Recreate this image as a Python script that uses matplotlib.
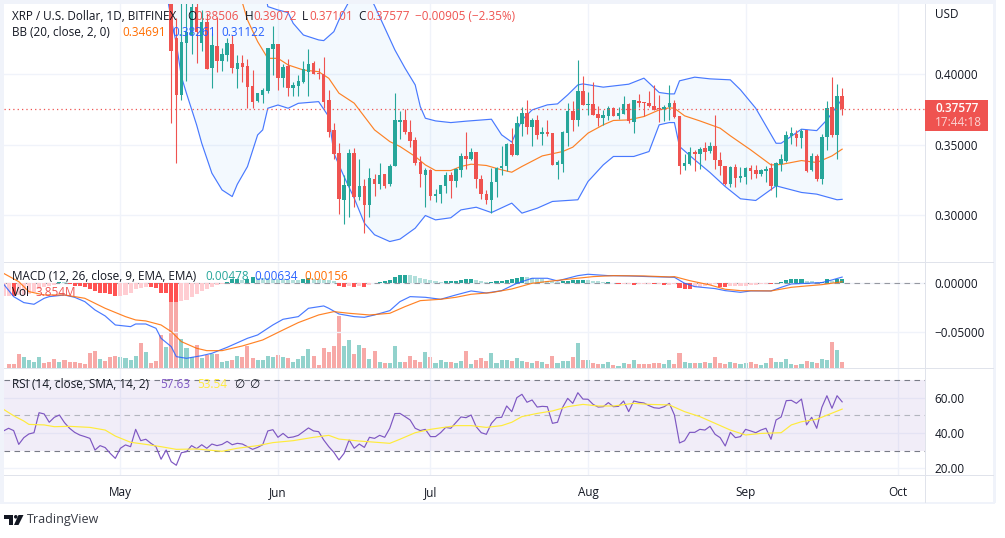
import matplotlib
matplotlib.use('Agg')
import matplotlib.pyplot as plt
import numpy as np
from matplotlib.patches import Rectangle, Circle, Polygon

plt.rcParams['font.family'] = ['Open Sans', 'DejaVu Sans']

# x axis is days counted from May 1st, first candle in view is May 11th
month_days = [0, 31, 61, 92, 123, 153]
month_names = ['May', 'Jun', 'Jul', 'Aug', 'Sep', 'Oct']

opens = [0.4600, 0.4257, 0.3855, 0.4227, 0.4281, 0.4483, 0.4227, 0.4376, 0.4044, 0.4203,
         0.4099, 0.4139, 0.4217, 0.4039, 0.4084, 0.4061, 0.3919, 0.3812, 0.3855, 0.3885,
         0.4179, 0.4217, 0.3978, 0.4063, 0.3902, 0.3919, 0.3949, 0.4020, 0.4080, 0.4013,
         0.4004, 0.3819, 0.3606, 0.3440, 0.3109, 0.3208, 0.3445, 0.3127, 0.3208, 0.3073,
         0.3255, 0.3222, 0.3293, 0.3222, 0.3350, 0.3665, 0.3673, 0.3590, 0.3535, 0.3381,
         0.3286, 0.3322, 0.3137, 0.3151, 0.3208, 0.3286, 0.3244, 0.3322, 0.3421, 0.3400,
         0.3450, 0.3258, 0.3151, 0.3109, 0.3232, 0.3338, 0.3346, 0.3507, 0.3428, 0.3649,
         0.3725, 0.3625, 0.3673, 0.3580, 0.3592, 0.3585, 0.3357, 0.3364, 0.3587, 0.3741,
         0.3677, 0.3883, 0.3784, 0.3791, 0.3720, 0.3692, 0.3708, 0.3760, 0.3708, 0.3722,
         0.3791, 0.3665, 0.3810, 0.3805, 0.3800, 0.3777, 0.3760, 0.3753, 0.3767, 0.3800,
         0.3706, 0.3346, 0.3362, 0.3450, 0.3436, 0.3478, 0.3455, 0.3492, 0.3393, 0.3350,
         0.3222, 0.3343, 0.3265, 0.3272, 0.3336, 0.3322, 0.3293, 0.3317, 0.3336, 0.3208,
         0.3364, 0.3386, 0.3566, 0.3578, 0.3549, 0.3606, 0.3322, 0.3421, 0.3258, 0.3554,
         0.3767, 0.3571, 0.38506]
highs = [0.4800, 0.4400, 0.4600, 0.4550, 0.4600, 0.4510, 0.4459, 0.4435, 0.4293, 0.4412,
         0.4186, 0.4257, 0.4281, 0.4139, 0.4139, 0.4108, 0.4032, 0.3871, 0.3902, 0.4186,
         0.4345, 0.4217, 0.4075, 0.4108, 0.3949, 0.3997, 0.4096, 0.4179, 0.4099, 0.4044,
         0.4127, 0.3890, 0.3658, 0.3511, 0.3286, 0.3471, 0.3476, 0.3398, 0.3255, 0.3334,
         0.3293, 0.3369, 0.3293, 0.3364, 0.3867, 0.3741, 0.3756, 0.3677, 0.3554, 0.3417,
         0.3334, 0.3329, 0.3187, 0.3215, 0.3303, 0.3310, 0.3334, 0.3440, 0.3590, 0.3476,
         0.3450, 0.3286, 0.3180, 0.3334, 0.3341, 0.3492, 0.3511, 0.3618, 0.3708, 0.3772,
         0.3819, 0.3689, 0.3713, 0.3625, 0.3673, 0.3585, 0.3393, 0.3599, 0.3796, 0.3808,
         0.4104, 0.3990, 0.3879, 0.3945, 0.3777, 0.3748, 0.3777, 0.3767, 0.3767, 0.3848,
         0.3800, 0.3819, 0.3862, 0.3805, 0.3883, 0.3926, 0.3855, 0.3784, 0.3926, 0.3819,
         0.3706, 0.3433, 0.3483, 0.3464, 0.3483, 0.3523, 0.3519, 0.3713, 0.3452, 0.3350,
         0.3346, 0.3362, 0.3341, 0.3341, 0.3357, 0.3357, 0.3329, 0.3346, 0.3369, 0.3381,
         0.3433, 0.3599, 0.3625, 0.3606, 0.3611, 0.3606, 0.3440, 0.3436, 0.3578, 0.3812,
         0.3981, 0.3933, 0.39072]
lows = [0.3658, 0.3373, 0.3819, 0.3956, 0.4146, 0.4084, 0.4170, 0.4037, 0.3907, 0.4020,
        0.4028, 0.4099, 0.4009, 0.3907, 0.3949, 0.3760, 0.3760, 0.3802, 0.3800, 0.3866,
        0.3997, 0.3890, 0.3909, 0.3847, 0.3847, 0.3847, 0.3938, 0.3847, 0.4004, 0.3966,
        0.3760, 0.3558, 0.3400, 0.3009, 0.2938, 0.2990, 0.3061, 0.3109, 0.2876, 0.2983,
        0.3137, 0.3187, 0.3191, 0.3208, 0.3350, 0.3542, 0.3578, 0.3481, 0.3353, 0.3203,
        0.3061, 0.3104, 0.3094, 0.3087, 0.3156, 0.3125, 0.3203, 0.3274, 0.3327, 0.3393,
        0.3196, 0.3113, 0.3080, 0.3018, 0.3132, 0.3286, 0.3315, 0.3417, 0.3428, 0.3564,
        0.3578, 0.3492, 0.3540, 0.3500, 0.3564, 0.3353, 0.3258, 0.3305, 0.3492, 0.3599,
        0.3635, 0.3784, 0.3713, 0.3713, 0.3635, 0.3642, 0.3677, 0.3706, 0.3684, 0.3722,
        0.3658, 0.3587, 0.3767, 0.3706, 0.3767, 0.3744, 0.3665, 0.3670, 0.3677, 0.3694,
        0.3293, 0.3322, 0.3357, 0.3317, 0.3329, 0.3393, 0.3440, 0.3327, 0.3286, 0.3215,
        0.3199, 0.3201, 0.3232, 0.3222, 0.3255, 0.3263, 0.3279, 0.3232, 0.3180, 0.3132,
        0.3317, 0.3381, 0.3507, 0.3488, 0.3476, 0.3310, 0.3317, 0.3246, 0.3222, 0.3464,
        0.3554, 0.3400, 0.37101]
closes = [0.4170, 0.3855, 0.4234, 0.4305, 0.4483, 0.4305, 0.4376, 0.4039, 0.4210, 0.4099,
          0.4146, 0.4227, 0.4044, 0.4084, 0.4056, 0.3914, 0.3807, 0.3866, 0.3890, 0.4186,
          0.4217, 0.3978, 0.4051, 0.3902, 0.3926, 0.3954, 0.4037, 0.4075, 0.4004, 0.4004,
          0.3807, 0.3594, 0.3436, 0.3116, 0.3215, 0.3445, 0.3127, 0.3208, 0.3073, 0.3263,
          0.3222, 0.3286, 0.3208, 0.3350, 0.3673, 0.3677, 0.3590, 0.3530, 0.3374, 0.3293,
          0.3322, 0.3137, 0.3151, 0.3215, 0.3286, 0.3246, 0.3327, 0.3421, 0.3400, 0.3447,
          0.3255, 0.3151, 0.3109, 0.3236, 0.3338, 0.3346, 0.3507, 0.3428, 0.3658, 0.3729,
          0.3630, 0.3673, 0.3571, 0.3590, 0.3578, 0.3353, 0.3379, 0.3594, 0.3741, 0.3677,
          0.3883, 0.3784, 0.3791, 0.3713, 0.3692, 0.3713, 0.3760, 0.3706, 0.3725, 0.3791,
          0.3668, 0.3819, 0.3800, 0.3796, 0.3777, 0.3748, 0.3753, 0.3770, 0.3800, 0.3701,
          0.3346, 0.3374, 0.3450, 0.3436, 0.3473, 0.3450, 0.3492, 0.3393, 0.3346, 0.3220,
          0.3343, 0.3265, 0.3279, 0.3336, 0.3317, 0.3293, 0.3322, 0.3331, 0.3208, 0.3369,
          0.3400, 0.3571, 0.3583, 0.3549, 0.3599, 0.3317, 0.3421, 0.3260, 0.3554, 0.3760,
          0.3571, 0.3848, 0.37577]
first_candle_day = 10

basis_days = [23, 24, 25, 27, 29, 31, 33, 36, 39, 41, 43, 46, 48, 50, 53, 55, 58, 60, 62, 65,
              67, 69, 72, 75, 77, 79, 83, 87, 89, 92, 95, 97, 100, 103, 106, 108, 109, 111,
              114, 118, 120, 124, 128, 130, 134, 137, 140, 142]
basis = [0.4600, 0.4511, 0.4388, 0.4234, 0.4115, 0.4115, 0.4068, 0.4032, 0.4020, 0.3973,
         0.3867, 0.3796, 0.3701, 0.3606, 0.3523, 0.3488, 0.3417, 0.3357, 0.3317, 0.3317,
         0.3346, 0.3362, 0.3353, 0.3322, 0.3305, 0.3346, 0.3421, 0.3452, 0.3483, 0.3583,
         0.3642, 0.3673, 0.3677, 0.3701, 0.3748, 0.3763, 0.3760, 0.3706, 0.3670, 0.3618,
         0.3564, 0.3464, 0.3357, 0.3360, 0.3388, 0.3374, 0.3421, 0.34691]
upper_days = [9, 28, 29, 31, 33, 34, 36, 39, 40, 42, 43, 45, 47, 49, 50, 54, 56, 58, 59, 60,
              62, 65, 68, 73, 75, 77, 79, 81, 84, 86, 88, 90, 91, 95, 100, 103, 106, 108,
              109, 110, 113, 116, 120, 122, 125, 129, 130, 134, 137, 139, 142]
upper = [0.5200, 0.4700, 0.4483, 0.4459, 0.4440, 0.4364, 0.4281, 0.4246, 0.4241, 0.4305,
         0.4388, 0.4520, 0.4600, 0.4560, 0.4490, 0.4175, 0.4045, 0.3926, 0.3772, 0.3689,
         0.3670, 0.3658, 0.3668, 0.3682, 0.3571, 0.3519, 0.3677, 0.3748, 0.3784, 0.3791,
         0.3855, 0.3926, 0.3933, 0.3910, 0.3931, 0.3974, 0.3872, 0.3862, 0.3862, 0.3955,
         0.3981, 0.3969, 0.3962, 0.3891, 0.3760, 0.3511, 0.3511, 0.3611, 0.3601, 0.3677,
         0.38261]
lower_days = [9, 10, 11, 12, 13, 15, 16, 18, 20, 22, 23, 25, 27, 28, 29, 31, 33, 35, 39, 41,
              42, 44, 46, 48, 50, 53, 55, 58, 60, 62, 65, 67, 70, 73, 77, 79, 82, 85, 90, 92,
              95, 97, 101, 104, 106, 108, 109, 110, 113, 116, 119, 122, 125, 127, 129, 134,
              137, 141, 142]
lower = [0.4600, 0.4388, 0.4222, 0.3985, 0.3866, 0.3641, 0.3511, 0.3298, 0.3179, 0.3132,
         0.3219, 0.3345, 0.3570, 0.3606, 0.3760, 0.3783, 0.3760, 0.3795, 0.3807, 0.3700,
         0.3440, 0.3274, 0.3120, 0.2943, 0.2860, 0.2812, 0.2829, 0.2907, 0.2997, 0.2966,
         0.2981, 0.3037, 0.3056, 0.3018, 0.3085, 0.3014, 0.3049, 0.3097, 0.3109, 0.3239,
         0.3357, 0.3417, 0.3417, 0.3452, 0.3642, 0.3658, 0.3658, 0.3488, 0.3393, 0.3303,
         0.3203, 0.3116, 0.3104, 0.3156, 0.3208, 0.3161, 0.3149, 0.3109, 0.31122]

# histogram starts on day -23
macd_hist = [-0.0129, -0.0129, -0.0130, -0.0122, -0.0119, -0.0109, -0.0085, -0.0061, -0.0041, -0.0027,
             -0.0014, 0.0014, 0.0010, -0.0010, -0.0024, -0.0031, -0.0041, -0.0054, -0.0075, -0.0095,
             -0.0102, -0.0109, -0.0129, -0.0126, -0.0119, -0.0095, -0.0061, -0.0048, -0.0041, -0.0042,
             -0.0044, -0.0095, -0.0099, -0.0187, -0.0190, -0.0177, -0.0170, -0.0143, -0.0109, -0.0082,
             -0.0054, -0.0034, -0.0017, -0.0007, 0.0017, 0.0041, 0.0048, 0.0034, 0.0048, 0.0061,
             0.0058, 0.0054, 0.0051, 0.0048, 0.0044, 0.0041, 0.0037, 0.0034, 0.0031, 0.0041,
             0.0054, 0.0048, 0.0041, 0.0034, 0.0031, 0.0027, -0.0027, -0.0034, -0.0027, -0.0034,
             -0.0027, -0.0034, -0.0014, 0.0003, 0.0014, 0.0020, 0.0034, 0.0068, 0.0085, 0.0088,
             0.0085, 0.0075, 0.0058, 0.0044, 0.0037, 0.0024, 0.0014, 0.0024, 0.0024, 0.0024,
             0.0034, 0.0044, 0.0044, 0.0034, 0.0024, 0.0014, 0.0017, 0.0024, 0.0024, 0.0034,
             0.0044, 0.0058, 0.0065, 0.0061, 0.0058, 0.0048, 0.0041, 0.0027, 0.0024, 0.0014,
             0.0020, 0.0027, 0.0031, 0.0034, 0.0037, 0.0031, 0.0024, 0.0020, 0.0010, 0.0014,
             0.0007, -0.0003, -0.0003, -0.0003, -0.0017, -0.0007, -0.0003, -0.0003, -0.0010, -0.0010,
             -0.0014, -0.0014, -0.0012, -0.0048, -0.0058, -0.0059, -0.0041, -0.0037, -0.0031, -0.0017,
             -0.0010, -0.0041, -0.0042, -0.0027, -0.0026, -0.0025, -0.0024, -0.0017, -0.0014, -0.0010,
             -0.0003, -0.0010, 0.0003, 0.0014, 0.0034, 0.0044, 0.0045, 0.0046, 0.0024, 0.0023,
             0.0014, 0.0015, 0.0041, 0.0027, 0.0041, 0.00478]
macd_days = [-23, -21, -19, -17, -15, -14, -11, -9, -7, -5, -3, -1, 2, 3, 5, 7, 8, 10, 11, 13,
             16, 18, 21, 25, 27, 30, 32, 35, 37, 40, 41, 43, 46, 48, 50, 53, 55, 57, 60, 63,
             66, 69, 72, 75, 78, 81, 84, 86, 90, 92, 96, 100, 104, 109, 111, 113, 117, 119,
             122, 124, 128, 130, 132, 135, 138, 140, 142]
macd_line = [-0.0007, -0.0136, -0.0197, -0.0214, -0.0153, -0.0136, -0.0119, -0.0143, -0.0187, -0.0272,
             -0.0333, -0.0425, -0.0442, -0.0415, -0.0415, -0.0459, -0.0561, -0.0646, -0.0748, -0.0765,
             -0.0738, -0.0714, -0.0653, -0.0561, -0.0527, -0.0425, -0.0367, -0.0340, -0.0255, -0.0231,
             -0.0255, -0.0313, -0.0340, -0.0347, -0.0323, -0.0279, -0.0187, -0.0136, -0.0143, -0.0163,
             -0.0119, -0.0078, -0.0099, -0.0075, 0.0000, 0.0051, 0.0051, 0.0024, 0.0078, 0.0092,
             0.0078, 0.0075, 0.0068, 0.0061, 0.0000, -0.0034, -0.0054, -0.0075, -0.0092, -0.0078,
             -0.0078, -0.0041, -0.0007, 0.0000, 0.0007, 0.0034, 0.00634]
signal_days = [-23, -20, -18, -15, -11, -7, -3, 1, 3, 5, 8, 10, 12, 15, 17, 20, 24, 28, 32, 35,
               39, 42, 45, 49, 53, 56, 59, 63, 66, 69, 73, 77, 81, 85, 88, 93, 97, 103, 108,
               109, 112, 116, 119, 122, 128, 132, 135, 138, 142]
signal_line = [0.0102, 0.0017, -0.0085, -0.0119, -0.0119, -0.0153, -0.0255, -0.0340, -0.0374, -0.0384,
               -0.0425, -0.0493, -0.0595, -0.0663, -0.0687, -0.0687, -0.0639, -0.0578, -0.0476, -0.0401,
               -0.0323, -0.0289, -0.0306, -0.0323, -0.0306, -0.0238, -0.0177, -0.0163, -0.0143, -0.0112,
               -0.0095, -0.0058, 0.0000, 0.0024, 0.0041, 0.0068, 0.0078, 0.0075, 0.0065, 0.0068,
               0.0027, -0.0017, -0.0061, -0.0075, -0.0078, -0.0041, -0.0027, -0.0014, 0.00156]

# volume in millions, the days before the first candle need their own up/down flag
volume_before = [2.6, 2.6, 8.4, 7.0, 5.0, 4.0, 6.6, 3.0, 3.6, 5.6, 3.6, 5.0, 3.6, 3.6, 3.2, 2.4,
                 9.0, 10.4, 5.4, 4.4, 7.0, 7.6, 6.6, 6.2, 5.0, 7.4, 15.0, 9.6, 3.0, 4.4, 20.0, 13.0]
up_before = [0, 0, 0, 1, 1, 1, 1, 0, 0, 0, 1, 0, 0, 0, 0, 0,
             0, 0, 1, 0, 0, 0, 1, 1, 1, 1, 0, 1, 0, 0, 0, 1]
volume = [42, 42, 17.6, 12, 7, 14, 6.4, 8, 8.6, 8.4, 3.6, 4.4, 5, 7.4, 7, 13.4, 6.4, 5, 5, 7.4,
          6.6, 8, 6.6, 6, 4, 5.4, 7.6, 11.4, 7.6, 2, 12.4, 10, 13.4, 31.6, 13.4, 17, 8.6, 14, 12, 5.6,
          10.4, 3.6, 3, 3, 13.4, 3.6, 3.6, 7.4, 5, 4, 10, 7, 3.2, 5, 4, 4, 3.2, 4.4, 10.4, 2.6,
          5, 6.4, 4.4, 9.2, 3.2, 5, 5, 4.4, 6.2, 4.4, 3.6, 3.2, 4.4, 3.6, 2.6, 7.4, 3.2, 4.4, 4.4, 6.8,
          15.2, 5, 5, 3.2, 2.6, 2.6, 3.6, 2, 1.2, 3.2, 2.6, 5, 2.6, 2.6, 2.6, 3.2, 3.2, 2.6, 5, 2.6,
          9.2, 3.6, 3.2, 3.2, 3.2, 3.8, 3.2, 6.8, 3.2, 2.6, 3.8, 3.2, 2.6, 3.2, 3.8, 2.6, 2, 3.2, 6.2, 3.6,
          3.8, 5.6, 2.6, 2, 2.6, 4.4, 3.8, 3.2, 5.6, 5, 15.8, 11, 3.854]

# rsi has one value a day from day -23
rsi = [41.2, 42.7, 41.4, 33.6, 37.4, 39.5, 40.2, 51.5, 50.8, 46.1, 48.9, 50.2, 45.9, 42.7, 40.4, 38.9,
       38.0, 37.0, 30.4, 32.9, 31.8, 28.5, 25.7, 31.4, 33.3, 32.3, 42.1, 35.7, 36.5, 34.2, 32.3, 25.2,
       30.4, 23.8, 21.8, 28.9, 29.5, 32.9, 31.2, 33.4, 31.4, 33.8, 32.9, 33.6, 35.3, 33.4, 34.2, 33.8,
       32.3, 30.8, 31.9, 33.4, 41.2, 41.9, 37.6, 39.8, 37.4, 37.8, 38.7, 40.8, 42.9, 41.2, 40.8, 36.1,
       32.3, 29.1, 24.8, 28.5, 36.1, 31.4, 33.8, 31.9, 37.6, 37.0, 38.7, 37.6, 42.7, 51.0, 51.1, 49.3,
       47.4, 42.7, 41.4, 42.1, 38.0, 38.0, 40.2, 43.2, 42.7, 45.9, 49.1, 48.7, 50.2, 43.6, 40.2, 39.3,
       45.5, 48.7, 48.9, 55.3, 52.1, 60.0, 61.9, 57.4, 58.7, 54.7, 55.1, 54.9, 45.5, 46.1, 54.5, 59.6,
       56.8, 62.8, 59.2, 59.1, 56.2, 54.7, 54.9, 57.2, 54.9, 55.1, 58.1, 52.1, 58.1, 57.4, 57.0, 55.5,
       54.3, 54.0, 54.9, 56.8, 50.2, 34.4, 35.7, 40.4, 40.4, 42.1, 41.7, 43.8, 39.3, 37.4, 32.7, 40.4,
       37.4, 38.0, 42.1, 41.2, 40.2, 41.7, 42.7, 36.5, 47.4, 49.1, 58.3, 58.5, 56.8, 59.2, 44.6, 48.9,
       42.7, 54.5, 61.1, 54.0, 61.1, 57.63]
rsi_ma_days = [-23, -21, -19, -18, -15, -13, -10, -6, -3, -1, 2, 5, 8, 11, 15, 20, 23, 27, 30, 34,
               38, 41, 43, 47, 53, 55, 58, 61, 66, 69, 72, 75, 77, 79, 82, 85, 88, 91, 94, 97,
               101, 104, 108, 111, 114, 117, 120, 123, 126, 130, 132, 134, 137, 142]
rsi_ma = [53.4, 49.8, 46.8, 44.9, 44.6, 43.6, 43.8, 43.2, 41.7, 38.3, 34.8, 33.6, 32.3, 30.8, 31.0, 29.7,
          31.4, 32.9, 34.6, 35.7, 37.6, 38.7, 36.6, 35.5, 34.2, 36.5, 40.2, 42.1, 44.2, 44.2, 43.2, 44.2,
          46.1, 49.3, 51.1, 52.5, 54.9, 56.2, 55.3, 55.3, 56.8, 56.2, 55.9, 52.1, 49.3, 45.5, 41.7, 38.9,
          39.8, 40.2, 44.6, 46.4, 47.8, 53.54]

GREEN = '#26a69a'
RED = '#ef5350'
BLUE = '#2962ff'
ORANGE = '#ff6d00'
GRID = '#f0f3fa'
BORDER = '#e0e3eb'
TEXT = '#131722'

W, H = 1005, 538
LEFT, RIGHT = 4, 925
fig = plt.figure(figsize=(W / 100, H / 100), dpi=100, facecolor='white')


def pane(top, bottom, zorder=1):
    return fig.add_axes([LEFT / W, 1 - bottom / H, (RIGHT - LEFT) / W, (bottom - top) / H], zorder=zorder)


def style(ax, yticks, ylabels):
    ax.set_xlim(-22.9, 158.3)
    ax.set_xticks(month_days)
    ax.set_xticklabels([])
    ax.set_yticks(yticks)
    ax.set_yticklabels(ylabels, color=TEXT, fontsize=8.5)
    ax.yaxis.tick_right()
    ax.tick_params(length=0, pad=7)
    ax.grid(True, color=GRID, lw=1)
    ax.set_axisbelow(True)
    for s in ax.spines.values():
        s.set_visible(False)


candle_days = np.arange(first_candle_day, first_candle_day + len(opens))
opens_a, highs_a, lows_a, closes_a = map(np.array, (opens, highs, lows, closes))
up = closes_a >= opens_a
candle_colors = [GREEN if u else RED for u in up]

# price pane
ax = pane(4, 261.5)
style(ax, [0.30, 0.35, 0.40], ['0.30000', '0.35000', '0.40000'])
ax.set_ylim(0.2670, 0.45014)
ax.fill(np.r_[upper_days, lower_days[::-1]], np.r_[upper, lower[::-1]], color='#2196f3', alpha=0.05, lw=0)
ax.plot(upper_days, upper, color=BLUE, lw=0.85, alpha=0.85)
ax.plot(lower_days, lower, color=BLUE, lw=0.85, alpha=0.85)
ax.plot(basis_days, basis, color=ORANGE, lw=0.85, alpha=0.85)
ax.vlines(candle_days, lows_a, highs_a, colors=candle_colors, lw=0.8, zorder=3)
ax.bar(candle_days, np.abs(closes_a - opens_a), bottom=np.minimum(opens_a, closes_a),
       width=0.7, color=candle_colors, zorder=3)
ax.axhline(closes[-1], color=RED, ls=(0, (1, 2.5)), lw=0.9, zorder=4)

# volume sits under the macd in the same pane
vol_ax = pane(262.5, 368.3, zorder=1)
vol_ax.set_xlim(-22.9, 158.3)
vol_ax.set_ylim(0, 63.5)
vol_ax.axis('off')
vol_days = np.arange(first_candle_day - len(volume_before), first_candle_day + len(volume))
vol_up = list(up_before) + list(up)
vol_ax.bar(vol_days, volume_before + volume, width=0.8,
           color=['#92d2cc' if u else '#f7a9a7' for u in vol_up])

macd_ax = pane(262.5, 368.3, zorder=2)
macd_ax.patch.set_alpha(0)
style(macd_ax, [0.0, -0.05], ['0.00000', '\u22120.05000'])
macd_ax.set_ylim(-0.0867, 0.0212)
hist = np.array(macd_hist)
hist_days = np.arange(-23, -23 + len(hist))
hist_colors = []
prev = hist[0]
for v in hist:
    if v >= 0:
        hist_colors.append(GREEN if v >= prev else '#b2dfdb')
    else:
        hist_colors.append('#ff5252' if v < prev else '#ffcdd2')
    prev = v
macd_ax.bar(hist_days, hist, width=0.8, color=hist_colors, zorder=2)
macd_ax.axhline(0, color='#9598a1', ls=(0, (5, 4)), lw=0.8, zorder=1)
macd_ax.plot(macd_days, macd_line, color=BLUE, lw=0.85, alpha=0.85, zorder=3)
macd_ax.plot(signal_days, signal_line, color=ORANGE, lw=0.85, alpha=0.85, zorder=3)

# rsi pane
rsi_ax = pane(369, 475)
style(rsi_ax, [60, 40, 20], ['60.00', '40.00', '20.00'])
rsi_ax.set_ylim(16.3, 76.2)
rsi_ax.axhspan(30, 70, color='#7e57c2', alpha=0.1, lw=0, zorder=1)
rsi_ax.axhline(70, color='#787b86', ls=(0, (5, 4)), lw=0.8, zorder=2)
rsi_ax.axhline(50, color='#b2b5be', ls=(0, (5, 4)), lw=0.8, zorder=2)
rsi_ax.axhline(30, color='#787b86', ls=(0, (5, 4)), lw=0.8, zorder=2)
rsi_ax.plot(np.arange(-23, -23 + len(rsi)), rsi, color='#7e57c2', lw=0.85, zorder=3)
rsi_ax.plot(rsi_ma_days, rsi_ma, color='#ffeb3b', lw=0.85, zorder=3)
rsi_ax.set_xticklabels(month_names, color=TEXT, fontsize=8.5)
rsi_ax.tick_params(axis='x', pad=8)

# frame, legends and logo are drawn in pixel coordinates on top
top = fig.add_axes([0, 0, 1, 1], zorder=10)
top.set_xlim(0, W)
top.set_ylim(H, 0)
top.axis('off')
for x, y, w, h, c in [(0, 0, 995, 3.5, GRID), (0, 0, 3.5, 503, GRID), (993, 0, 2.5, 503, GRID),
                      (0, 502, 995, 2, GRID), (925, 3.5, 1, 499, BORDER), (3.5, 261.5, 990, 1, BORDER),
                      (3.5, 368, 990, 1, BORDER), (3.5, 475, 990, 1, BORDER)]:
    top.add_patch(Rectangle((x, y), w, h, color=c, lw=0))


def label(x, y, s, color=TEXT, size=8.5, **kw):
    top.text(x, y, s, color=color, fontsize=size, va='center', ha='left', **kw)


label(935, 15, 'USD')
label(12, 16, 'XRP / U.S. Dollar, 1D, BITFINEX')
for x, s, c in [(187, 'O', TEXT), (195, '0.38506', RED), (245, 'H', TEXT), (253, '0.39072', RED),
                (302, 'L', TEXT), (309, '0.37101', RED), (358, 'C', TEXT), (366, '0.37577', RED),
                (415, '\u22120.00905 (\u22122.35%)', RED)]:
    label(x, 16, s, c)
label(12, 33, 'BB (20, close, 2, 0)')
label(122, 33, '0.34691', ORANGE)
label(172, 33, '0.38261', BLUE)
label(221, 33, '0.31122', BLUE)
label(12, 276, 'MACD (12, 26, close, 9, EMA, EMA)')
label(205, 276, '0.00478', GREEN)
label(254, 276, '0.00634', BLUE)
label(304, 276, '0.00156', ORANGE)
label(12, 293, 'Vol')
label(35, 293, '3.854M', RED)
label(12, 384, 'RSI (14, close, SMA, 14, 2)')
label(160, 384, '57.63', '#7e57c2')
label(197, 384, '53.54', '#ffeb3b')
label(234, 384, '\u2205', TEXT)
label(249, 384, '\u2205', TEXT)

top.add_patch(Rectangle((925, 100), 63, 31, color=RED, lw=0))
label(935, 108.5, '0.37577', 'white', weight='semibold')
label(935, 122, '17:44:18', '#fbd5d4')

top.add_patch(Rectangle((4, 515), 9, 3.5, color=TEXT, lw=0))
top.add_patch(Rectangle((8.5, 515), 4.5, 10, color=TEXT, lw=0))
top.add_patch(Circle((15.8, 516.8), 1.8, color=TEXT, lw=0))
top.add_patch(Polygon([(18.5, 515), (23.5, 515), (18.5, 525), (14, 525)], color=TEXT, lw=0))
label(27, 520, 'TradingView', size=9, alpha=0.85)

fig.savefig('out.png', dpi=100)
